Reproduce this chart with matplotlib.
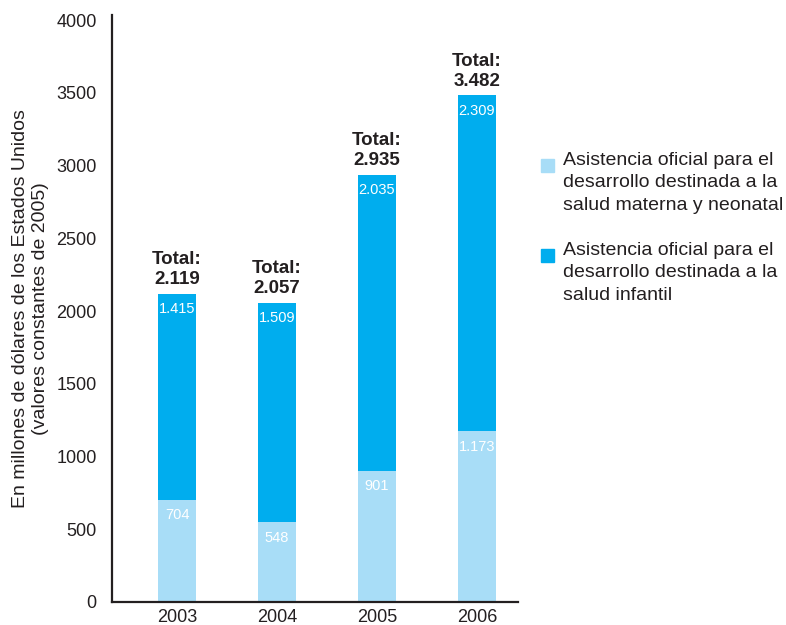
import matplotlib.pyplot as plt
from matplotlib.patches import Rectangle

plt.rcParams['font.family'] = ['Liberation Sans', 'DejaVu Sans']

# datos (millones de USD, valores constantes de 2005)
anios = ['2003', '2004', '2005', '2006']
materna = [704, 548, 901, 1173]
infantil = [1415, 1509, 2035, 2309]
totales = [2119, 2057, 2935, 3482]
leyenda = ['Asistencia oficial para el\ndesarrollo destinada a la\nsalud materna y neonatal',
           'Asistencia oficial para el\ndesarrollo destinada a la\nsalud infantil']

c_claro = '#A8DDF7'
c_oscuro = '#00ADEE'
c_texto = '#231F20'

def fmt(v):
    return f'{v:,}'.replace(',', '.')

fig = plt.figure(figsize=(7.86, 6.25), dpi=100)
ax = fig.add_axes([112 / 786, 23 / 625, 406 / 786, 587 / 625])

x = range(len(anios))
b1 = ax.bar(x, materna, width=0.38, color=c_claro)
b2 = ax.bar(x, infantil, width=0.38, bottom=materna, color=c_oscuro)

for i in x:
    ax.annotate(fmt(materna[i]), (i, materna[i]), xytext=(0, -11), textcoords='offset points',
                ha='center', va='center', color='white', fontsize=10.5)
    ax.annotate(fmt(infantil[i]), (i, totales[i]), xytext=(0, -11), textcoords='offset points',
                ha='center', va='center', color='white', fontsize=10.5)
    ax.annotate('Total:\n' + fmt(totales[i]), (i, totales[i]), xytext=(0, 4), textcoords='offset points',
                ha='center', va='bottom', color=c_texto, fontsize=13.5, fontweight='bold',
                linespacing=1.25)

ax.set_xlim(-0.65, 3.41)
ax.set_ylim(0, 4035)
ax.set_yticks(range(0, 4001, 500))
ax.set_xticks(list(x))
ax.set_xticklabels(anios)
ax.tick_params(length=0, labelsize=13, colors=c_texto)
ax.tick_params(axis='y', pad=11)
ax.tick_params(axis='x', pad=5)
for s in ['top', 'right']:
    ax.spines[s].set_visible(False)
for s in ['left', 'bottom']:
    ax.spines[s].set_linewidth(1.6)
    ax.spines[s].set_color(c_texto)

ax.set_ylabel('En millones de dólares de los Estados Unidos\n(valores constantes de 2005)',
              fontsize=14, color=c_texto, labelpad=5, linespacing=1.3)

# leyenda manual
for y0, col, txt in [(165, c_claro, leyenda[0]), (255, c_oscuro, leyenda[1])]:
    fig.patches.append(Rectangle((541 / 786, 1 - (y0 + 7) / 625), 13 / 786, 13 / 625,
                                 transform=fig.transFigure, color=col))
    fig.text(563 / 786, 1 - (y0 - 13) / 625, txt, fontsize=14, color=c_texto,
             va='top', ha='left', linespacing=1.42)

fig.savefig('out.png', dpi=100)
